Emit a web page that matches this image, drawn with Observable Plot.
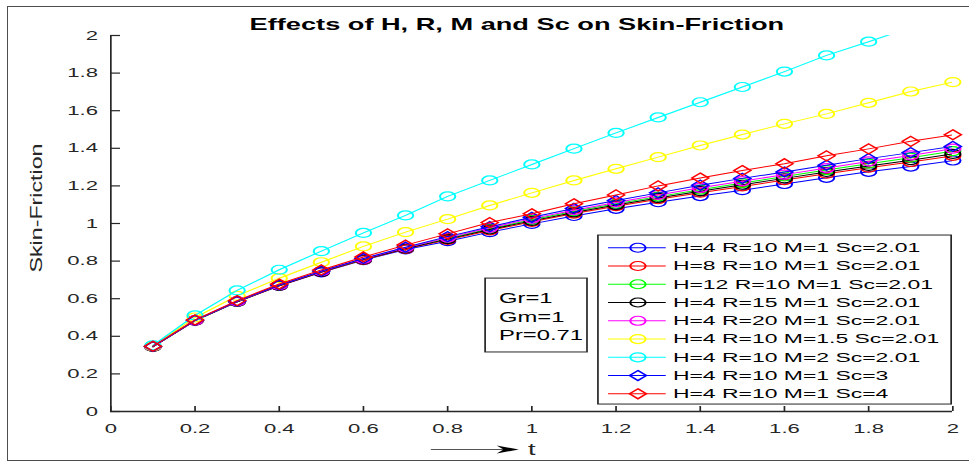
<!DOCTYPE html>
<html><head><meta charset="utf-8">
<script src="https://cdn.jsdelivr.net/npm/d3@7"></script>
<script src="https://cdn.jsdelivr.net/npm/@observablehq/plot@0.6"></script>
<style>
html,body{margin:0;padding:0;background:#fff;}
#wrap{position:relative;width:969px;height:462px;overflow:hidden;background:#fff;}
#frame{position:absolute;left:7px;top:6px;width:990px;height:455px;border:1.5px solid #4d4d4d;border-right:none;box-sizing:border-box;pointer-events:none;}
</style></head><body>
<div id="wrap"><div id="chart"></div><div id="frame"></div></div>
<script>
// ---- data ----
const t = [0.1,0.2,0.3,0.4,0.5,0.6,0.7,0.8,0.9,1.0,1.1,1.2,1.3,1.4,1.5,1.6,1.7,1.8,1.9,2.0];
const sH4  = [0.345,0.483,0.583,0.668,0.740,0.805,0.862,0.906,0.954,0.998,1.040,1.078,1.113,1.146,1.177,1.210,1.243,1.275,1.303,1.335];
const sH8  = [0.345,0.483,0.584,0.669,0.742,0.807,0.865,0.913,0.963,1.009,1.053,1.092,1.129,1.164,1.197,1.231,1.265,1.297,1.327,1.360];
const sH12 = [0.345,0.484,0.585,0.671,0.745,0.810,0.869,0.921,0.972,1.020,1.065,1.105,1.143,1.180,1.215,1.250,1.284,1.318,1.350,1.385];
const sR15 = [0.345,0.484,0.584,0.670,0.743,0.809,0.867,0.917,0.968,1.014,1.059,1.098,1.136,1.172,1.206,1.240,1.274,1.306,1.337,1.370];
const sR20 = [0.346,0.485,0.586,0.672,0.746,0.812,0.871,0.925,0.977,1.026,1.071,1.112,1.152,1.190,1.225,1.260,1.295,1.330,1.362,1.398];
const sM15 = [0.348,0.500,0.615,0.709,0.794,0.878,0.954,1.023,1.096,1.163,1.229,1.291,1.353,1.415,1.473,1.530,1.583,1.642,1.702,1.752];
const sM2  = [0.352,0.511,0.644,0.754,0.853,0.950,1.043,1.144,1.229,1.314,1.398,1.482,1.564,1.645,1.726,1.808,1.894,1.967,2.043,2.118];
const sSc3 = [0.346,0.485,0.587,0.673,0.747,0.814,0.874,0.930,0.983,1.033,1.080,1.122,1.163,1.204,1.240,1.274,1.310,1.345,1.377,1.410];
const sSc4 = [0.347,0.487,0.590,0.678,0.753,0.822,0.885,0.945,1.005,1.052,1.105,1.152,1.200,1.242,1.282,1.318,1.360,1.397,1.437,1.472];

const seriesLabels = [
  "H=4 R=10 M=1 Sc=2.01","H=8 R=10 M=1 Sc=2.01","H=12 R=10 M=1 Sc=2.01",
  "H=4 R=15 M=1 Sc=2.01","H=4 R=20 M=1 Sc=2.01","H=4 R=10 M=1.5 Sc=2.01",
  "H=4 R=10 M=2 Sc=2.01","H=4 R=10 M=1 Sc=3","H=4 R=10 M=1 Sc=4"];
const seriesValues = [sH4, sH8, sH12, sR15, sR20, sM15, sM2, sSc3, sSc4];
const xTicks = [0,0.2,0.4,0.6,0.8,1,1.2,1.4,1.6,1.8,2];
const yTicks = [0,0.2,0.4,0.6,0.8,1,1.2,1.4,1.6,1.8,2];
const paramNotes = ["Gr=1","Gm=1","Pr=0.71"];
const titleText = "Effects of H, R, M and Sc on Skin-Friction";
const yLabel = "Skin-Friction";
const xLabel = "t";

// ---- styles ----
const seriesColors = ["#0000ff","#ff0000","#00ff00","#000000","#ff00ff","#ffff00","#00ffff","#0000ff","#ff0000"];
const seriesSymbols = ["circle","circle","circle","circle","circle","circle","circle","diamond2","diamond2"];
const axisColor = "#262626";
const SX = 1.7;               // horizontal stretch of the original figure
const W = 969, H = 462;
const IW = W / SX;            // internal width
const mL = 110 / SX, mR = IW - 952 / SX, mT = 35, mB = H - 411;
const innerW = IW - mL - mR, innerH = H - mT - mB;

const rows = [];
seriesValues.forEach((vals, i) => vals.forEach((v, j) => rows.push({t: t[j], v, s: i})));

const marks = [];
// axes
marks.push(Plot.ruleY([0], {stroke: axisColor, strokeWidth: 1.3}));
marks.push(Plot.ruleX([0], {stroke: axisColor, strokeWidth: 1}));
marks.push(Plot.tickX(xTicks, {x: d => d, insetTop: innerH - 5, stroke: axisColor, strokeWidth: 1}));
marks.push(Plot.tickY(yTicks, {y: d => d, insetRight: innerW - 5.9, stroke: axisColor, strokeWidth: 1.2}));
marks.push(Plot.axisX(xTicks, {tickSize: 0, tickPadding: 12.5, tickFormat: d => String(d), color: axisColor, fontSize: 13, label: null}));
marks.push(Plot.axisY(yTicks, {tickSize: 0, tickPadding: 7.6, tickFormat: d => String(d), color: axisColor, fontSize: 13, label: null}));

// series
seriesValues.forEach((vals, i) => {
  const d = rows.filter(r => r.s === i);
  marks.push(Plot.line(d, {x: "t", y: "v", stroke: seriesColors[i], strokeWidth: 1, clip: true}));
  marks.push(Plot.dot(d, {x: "t", y: "v", filter: r => r.v <= 2, symbol: seriesSymbols[i], r: 4.5, stroke: seriesColors[i], strokeWidth: 1.2, fill: "none"}));
});

// legend (layout in data units)
const leg = {x1: 1.159, x2: 1.998, y1: 0.037, y2: 0.936, row0: 0.871, step: 0.0971, lx1: 1.181, lx2: 1.318, mx: 1.252, tx: 1.335};
marks.push(Plot.rect([leg], {x1: "x1", x2: "x2", y1: "y1", y2: "y2", fill: "white", stroke: axisColor, strokeWidth: 1}));
seriesLabels.forEach((lab, i) => {
  const yy = leg.row0 - i * leg.step;
  marks.push(Plot.link([lab], {x1: () => leg.lx1, x2: () => leg.lx2, y1: () => yy, y2: () => yy, stroke: seriesColors[i], strokeWidth: 1}));
  marks.push(Plot.dot([lab], {x: () => leg.mx, y: () => yy, symbol: seriesSymbols[i], r: 4.5, stroke: seriesColors[i], strokeWidth: 1.2, fill: "none"}));
  marks.push(Plot.text([lab], {x: () => leg.tx, y: () => yy, text: d => d, textAnchor: "start", fontSize: 13.5, fill: "black"}));
});

// parameter box
const note = {x1: 0.891, x2: 1.133, y1: 0.314, y2: 0.707, tx: 0.922, row0: 0.601, step: 0.0995};
marks.push(Plot.rect([note], {x1: "x1", x2: "x2", y1: "y1", y2: "y2", fill: "white", stroke: axisColor, strokeWidth: 1}));
marks.push(Plot.text(paramNotes, {x: () => note.tx, y: (d, i) => note.row0 - i * note.step, text: d => d, textAnchor: "start", fontSize: 14, fill: "black"}));

// title, y label, t-arrow
marks.push(Plot.text([titleText], {frameAnchor: "top", dy: -17, dx: -8.8, text: d => d, fontWeight: "bold", fontSize: 16, fill: "black"}));
marks.push(Plot.text([yLabel], {frameAnchor: "left", dx: -43.5, dy: 49, rotate: -90, textAnchor: "start", text: d => d, fontSize: 10, fill: axisColor}));
marks.push(Plot.text([xLabel], {frameAnchor: "bottom", dy: 43, dx: 0, text: d => d, fontSize: 16, fill: axisColor}));
const arrowHead = {draw(ctx) { ctx.moveTo(0, 0); ctx.lineTo(-13, -4); ctx.lineTo(-9, 0); ctx.lineTo(-13, 4); ctx.closePath(); }};
const arr = {x1: 0.760, x2: 0.969, y: -0.202};
marks.push(Plot.link([arr], {x1: "x1", x2: d => d.x2 - 0.03, y1: "y", y2: "y", stroke: "#555", strokeWidth: 1}));
marks.push(Plot.dot([arr], {x: "x2", y: "y", symbol: arrowHead, fill: "black", stroke: "none"}));

const svg = Plot.plot({
  width: IW, height: H,
  marginLeft: mL, marginRight: mR, marginTop: mT, marginBottom: mB,
  x: {domain: [0, 2]}, y: {domain: [0, 2]},
  style: {fontFamily: "'Liberation Sans', Arial, Helvetica, sans-serif", fontSize: "13px", background: "white"},
  marks
});
document.getElementById("chart").appendChild(svg);
svg.setAttribute("width", W);
svg.setAttribute("height", H);
svg.setAttribute("preserveAspectRatio", "none");
svg.style.width = W + "px";
svg.style.height = H + "px";
svg.style.maxWidth = "none";
svg.style.display = "block";
svg.querySelectorAll("text").forEach(el => {
  if (el.textContent === yLabel) {
    el.setAttribute("textLength", 129);
    el.setAttribute("lengthAdjust", "spacingAndGlyphs");
  }
});
</script>
</body></html>
